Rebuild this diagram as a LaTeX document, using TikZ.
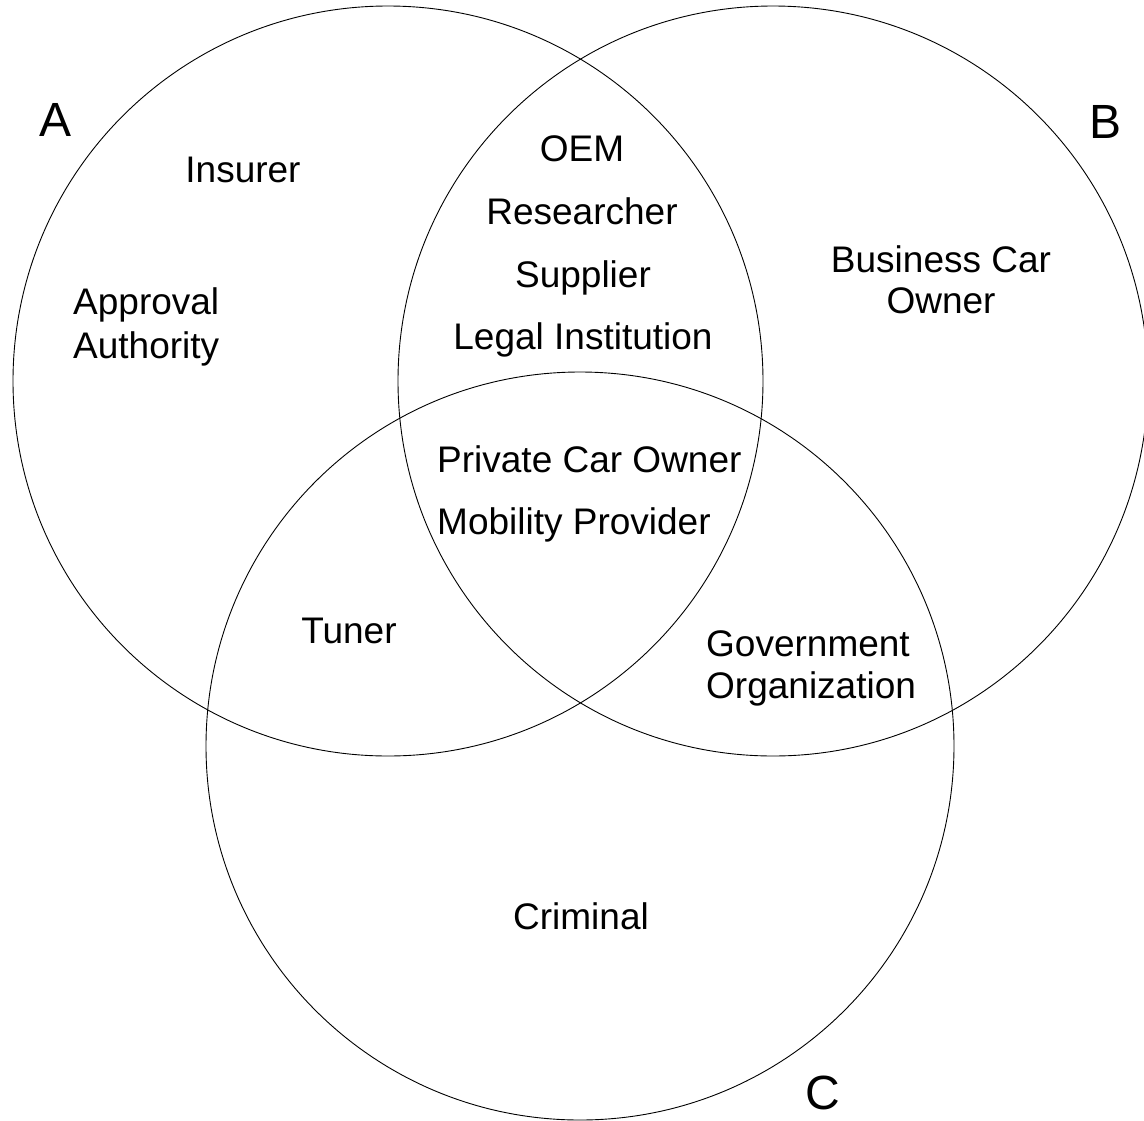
\documentclass[tikz,border=0pt]{standalone}
\usepackage{fontspec}
\setmainfont{Liberation Sans}
\begin{document}
\begin{tikzpicture}[x=1pt,y=-1pt,
  setcircle/.style={draw=black,line width=0.9pt},
  lbl/.style={font=\fontsize{37}{43}\selectfont,inner sep=0pt,anchor=base},
  lbll/.style={font=\fontsize{37}{43}\selectfont,inner sep=0pt,anchor=base west},
  setname/.style={font=\fontsize{48}{56}\selectfont,inner sep=0pt,anchor=base}]
\useasboundingbox (0,0) rectangle (1144,1120);
\fill[white] (0,0) rectangle (1144,1120);
% circles
\node[setcircle,circle,minimum size=750pt,inner sep=0pt] (ca) at (388,381) {};
\node[setcircle,circle,minimum size=750pt,inner sep=0pt] (cb) at (773,381) {};
\node[setcircle,circle,minimum size=748pt,inner sep=0pt] (cc) at (580,746) {};
% set names
\node[setname] (na) at (56,136) {A};
\node[setname] (nb) at (1105,138) {B};
\node[setname] (nc) at (823,1109) {C};
% A only
\node[lbl] (insurer) at (243,182) {Insurer};
\node[lbll] (approval) at (73,314) {Approval};
\node[lbll] (authority) at (73,358) {Authority};
% A and B
\node[lbl] (oem) at (582,161) {OEM};
\node[lbl] (researcher) at (582,224) {Researcher};
\node[lbl] (supplier) at (583,287) {Supplier};
\node[lbl] (legal) at (583,349) {Legal Institution};
% B only
\node[lbl] (business) at (941,272) {Business Car};
\node[lbl] (owner) at (941,313) {Owner};
% A, B and C
\node[lbll] (private) at (437,472) {Private Car Owner};
\node[lbll] (mobility) at (437,534) {Mobility Provider};
% A and C
\node[lbl] (tuner) at (349,643) {Tuner};
% B and C
\node[lbll] (gov) at (706,656) {Government};
\node[lbll] (org) at (706,698) {Organization};
% C only
\node[lbl] (criminal) at (581,929) {Criminal};
\end{tikzpicture}
\end{document}
